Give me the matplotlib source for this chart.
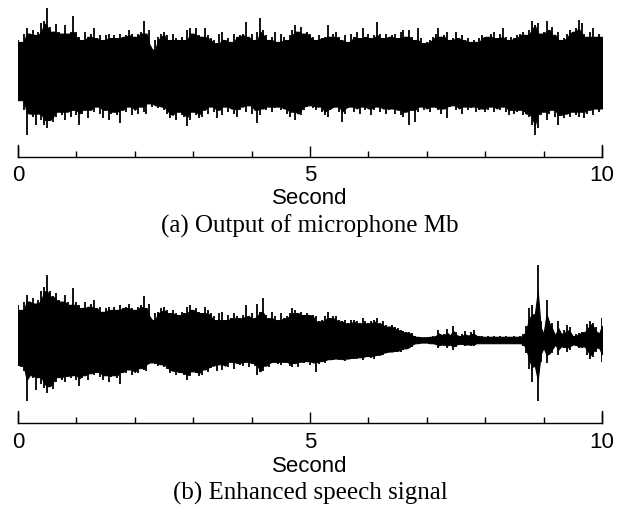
import numpy as np
import matplotlib
matplotlib.use("Agg")
import matplotlib.pyplot as plt

# ---------------- data (amplitude envelopes sampled every 0.05 s) ----------------
time_s = np.linspace(0, 10, 201)

mic_upper = [
 0.50,0.47,0.60,0.68,0.60,0.66,0.58,0.63,0.76,0.80,1.00,0.71,0.63,0.75,0.63,0.60,0.73,0.60,0.63,0.87,
 0.63,0.55,0.50,0.63,0.55,0.60,0.68,0.53,0.58,0.50,0.58,0.60,0.53,0.58,0.53,0.60,0.55,0.58,0.66,0.60,
 0.55,0.60,0.63,0.80,0.60,0.66,0.35,0.50,0.55,0.60,0.63,0.58,0.50,0.60,0.53,0.50,0.55,0.50,0.66,0.68,
 0.60,0.68,0.58,0.55,0.68,0.58,0.53,0.50,0.45,0.60,0.63,0.50,0.53,0.47,0.60,0.55,0.58,0.60,0.78,0.55,
 0.60,0.50,0.63,0.84,0.66,0.58,0.50,0.55,0.63,0.47,0.60,0.55,0.50,0.58,0.66,0.73,0.63,0.71,0.60,0.63,
 0.60,0.55,0.50,0.58,0.53,0.55,0.73,0.55,0.60,0.63,0.55,0.50,0.58,0.47,0.60,0.55,0.63,0.53,0.68,0.55,
 0.60,0.53,0.58,0.78,0.60,0.53,0.60,0.55,0.58,0.60,0.53,0.63,0.66,0.55,0.66,0.55,0.50,0.68,0.53,0.45,
 0.47,0.50,0.55,0.60,0.68,0.55,0.58,0.63,0.50,0.53,0.63,0.53,0.58,0.50,0.53,0.47,0.50,0.47,0.53,0.58,
 0.55,0.55,0.60,0.63,0.53,0.60,0.68,0.55,0.50,0.55,0.53,0.58,0.60,0.63,0.58,0.66,0.80,0.73,0.76,0.60,
 0.63,0.80,0.66,0.71,0.58,0.63,0.50,0.53,0.60,0.66,0.63,0.68,0.81,0.76,0.60,0.55,0.63,0.68,0.55,0.60,
 0.55]
mic_lower = [
 -0.44,-0.44,-0.59,-0.98,-0.65,-0.70,-0.83,-0.65,-0.75,-0.83,-0.88,-0.75,-0.78,-0.70,-0.62,-0.67,-0.75,-0.62,-0.70,-0.59,
 -0.67,-0.83,-0.65,-0.59,-0.72,-0.59,-0.62,-0.54,-0.65,-0.72,-0.59,-0.75,-0.65,-0.62,-0.67,-0.80,-0.59,-0.62,-0.54,-0.67,
 -0.59,-0.65,-0.54,-0.62,-0.65,-0.49,-0.54,-0.52,-0.57,-0.54,-0.59,-0.65,-0.72,-0.67,-0.75,-0.62,-0.67,-0.70,-0.85,-0.75,
 -0.62,-0.67,-0.72,-0.70,-0.59,-0.65,-0.54,-0.62,-0.72,-0.59,-0.67,-0.54,-0.62,-0.57,-0.65,-0.70,-0.59,-0.54,-0.62,-0.52,
 -0.65,-0.59,-0.80,-0.67,-0.57,-0.59,-0.54,-0.62,-0.57,-0.54,-0.59,-0.57,-0.65,-0.70,-0.62,-0.75,-0.65,-0.67,-0.59,-0.54,
 -0.52,-0.57,-0.59,-0.54,-0.62,-0.67,-0.70,-0.59,-0.57,-0.54,-0.62,-0.78,-0.65,-0.57,-0.54,-0.62,-0.57,-0.65,-0.54,-0.59,
 -0.57,-0.67,-0.59,-0.54,-0.62,-0.57,-0.65,-0.59,-0.57,-0.65,-0.59,-0.67,-0.70,-0.62,-0.83,-0.59,-0.78,-0.62,-0.54,-0.59,
 -0.57,-0.62,-0.54,-0.57,-0.59,-0.65,-0.57,-0.72,-0.54,-0.52,-0.59,-0.57,-0.65,-0.54,-0.59,-0.57,-0.54,-0.62,-0.59,-0.57,
 -0.62,-0.59,-0.54,-0.62,-0.57,-0.59,-0.54,-0.62,-0.67,-0.59,-0.65,-0.62,-0.59,-0.67,-0.65,-0.70,-0.83,-0.98,-0.88,-0.67,
 -0.62,-0.75,-0.65,-0.59,-0.70,-0.83,-0.67,-0.72,-0.65,-0.70,-0.62,-0.67,-0.70,-0.62,-0.72,-0.65,-0.59,-0.67,-0.57,-0.62,
 -0.57]

enh_upper = [
 0.55,0.47,0.60,0.70,0.60,0.65,0.57,0.63,0.76,0.83,1.02,0.76,0.68,0.73,0.63,0.60,0.70,0.60,0.55,0.81,
 0.60,0.55,0.50,0.60,0.52,0.57,0.63,0.50,0.52,0.44,0.50,0.52,0.47,0.52,0.47,0.55,0.50,0.52,0.57,0.50,
 0.47,0.52,0.55,0.68,0.50,0.57,0.31,0.42,0.44,0.50,0.52,0.47,0.42,0.47,0.42,0.39,0.44,0.42,0.52,0.55,
 0.47,0.50,0.44,0.42,0.52,0.47,0.42,0.37,0.31,0.42,0.44,0.31,0.39,0.34,0.42,0.37,0.34,0.39,0.55,0.37,
 0.42,0.34,0.57,0.44,0.65,0.39,0.34,0.44,0.37,0.31,0.42,0.34,0.37,0.42,0.50,0.47,0.42,0.44,0.39,0.42,
 0.39,0.39,0.37,0.29,0.31,0.37,0.44,0.34,0.37,0.37,0.31,0.29,0.31,0.26,0.31,0.31,0.29,0.26,0.34,0.29,
 0.26,0.29,0.31,0.34,0.26,0.29,0.23,0.21,0.23,0.21,0.18,0.16,0.14,0.12,0.13,0.11,0.07,0.05,0.05,0.04,
 0.05,0.05,0.06,0.07,0.16,0.08,0.10,0.17,0.07,0.22,0.13,0.06,0.09,0.14,0.07,0.12,0.16,0.08,0.06,0.06,
 0.05,0.06,0.05,0.06,0.05,0.06,0.05,0.06,0.05,0.05,0.06,0.05,0.06,0.10,0.22,0.50,0.55,0.40,1.17,0.30,
 0.10,0.62,0.30,0.26,0.07,0.29,0.10,0.15,0.24,0.20,0.06,0.09,0.11,0.13,0.12,0.25,0.30,0.26,0.21,0.10,
 0.34]
enh_lower = [
 -0.39,-0.42,-0.48,-0.96,-0.55,-0.60,-0.78,-0.58,-0.68,-0.75,-0.83,-0.72,-0.76,-0.66,-0.58,-0.62,-0.65,-0.56,-0.60,-0.55,
 -0.62,-0.72,-0.60,-0.55,-0.62,-0.52,-0.55,-0.50,-0.58,-0.62,-0.55,-0.65,-0.58,-0.55,-0.60,-0.68,-0.50,-0.52,-0.46,-0.55,
 -0.50,-0.52,-0.44,-0.47,-0.48,-0.38,-0.35,-0.37,-0.40,-0.38,-0.42,-0.46,-0.52,-0.48,-0.55,-0.50,-0.52,-0.55,-0.62,-0.56,
 -0.49,-0.52,-0.56,-0.54,-0.46,-0.50,-0.44,-0.40,-0.49,-0.38,-0.47,-0.40,-0.42,-0.34,-0.46,-0.36,-0.39,-0.40,-0.34,-0.42,
 -0.36,-0.40,-0.55,-0.50,-0.49,-0.40,-0.42,-0.36,-0.34,-0.37,-0.39,-0.34,-0.36,-0.40,-0.42,-0.36,-0.42,-0.34,-0.36,-0.33,
 -0.39,-0.35,-0.50,-0.38,-0.33,-0.36,-0.32,-0.30,-0.31,-0.29,-0.31,-0.30,-0.33,-0.29,-0.30,-0.28,-0.29,-0.27,-0.32,-0.27,
 -0.25,-0.28,-0.29,-0.24,-0.23,-0.23,-0.20,-0.19,-0.18,-0.18,-0.17,-0.18,-0.15,-0.13,-0.13,-0.11,-0.07,-0.05,-0.05,-0.04,
 -0.05,-0.05,-0.06,-0.07,-0.13,-0.07,-0.09,-0.13,-0.07,-0.16,-0.11,-0.06,-0.08,-0.10,-0.07,-0.09,-0.10,-0.07,-0.05,-0.06,
 -0.05,-0.06,-0.05,-0.06,-0.05,-0.06,-0.05,-0.06,-0.05,-0.05,-0.06,-0.05,-0.06,-0.09,-0.20,-0.45,-0.65,-0.40,-0.96,-0.34,
 -0.12,-0.36,-0.22,-0.21,-0.07,-0.23,-0.10,-0.12,-0.18,-0.15,-0.07,-0.10,-0.13,-0.12,-0.10,-0.24,-0.29,-0.26,-0.18,-0.12,
 -0.34]

tick_values = [0, 5, 10]
tick_labels = ["0", "5", "10"]
minor_ticks = [1, 2, 3, 4, 6, 7, 8, 9]
x_label = "Second"
captions = ["(a) Output of microphone Mb", "(b) Enhanced speech signal"]

# ---------------- figure ----------------
W, H = 629, 515
fig = plt.figure(figsize=(W / 100, H / 100), dpi=100)
sans = ["Liberation Sans", "DejaVu Sans"]
serif = ["Liberation Serif", "DejaVu Serif"]


def px_axes(left, top, right, bottom):
    return fig.add_axes([left / W, 1 - bottom / H, (right - left) / W, (bottom - top) / H])


def body_of(env):
    """Core of the trace: neighbourhood minimum, but never below 65% of the local peak."""
    e = np.abs(np.asarray(env))
    pad = np.concatenate([e[:1], e, e[-1:]])
    nmin = np.minimum(np.minimum(pad[:-2], pad[1:-1]), pad[2:])
    return np.maximum(nmin, 0.65 * e)


panels = [
    dict(upper=mic_upper, lower=mic_lower, top=0, bottom=156.7, center=72.0,
         label_y=176, xlabel_y=199, cap_y=226, caption=captions[0]),
    dict(upper=enh_upper, lower=enh_lower, top=258, bottom=422.7, center=340.0,
         label_y=443, xlabel_y=466, cap_y=493, caption=captions[1]),
]
scale = 64.0  # px per unit amplitude
x0, x1 = 18, 602

for p in panels:
    ax = px_axes(x0, p["top"], x1, p["bottom"])
    ymax = (p["center"] - p["top"]) / scale
    ymin = -(p["bottom"] - p["center"]) / scale
    up = np.array(p["upper"])
    lo = np.array(p["lower"])
    ax.fill_between(time_s, -body_of(lo), body_of(up), color="black", lw=0.8, edgecolor="black")
    ax.vlines(time_s, lo, up, color="black", lw=1.3)
    ax.set_xlim(0, 10)
    ax.set_ylim(ymin, ymax)
    for s in ["top", "right", "left"]:
        ax.spines[s].set_visible(False)
    ax.spines["bottom"].set_linewidth(1.0)
    ax.set_yticks([])
    ax.set_xticks(tick_values)
    ax.set_xticklabels([])
    ax.set_xticks(minor_ticks, minor=True)
    ax.tick_params(axis="x", which="major", direction="in", length=8, width=1.0)
    ax.tick_params(axis="x", which="minor", direction="in", length=4, width=1.0)
    ax.patch.set_alpha(0)
    for xv in (tick_values[0], tick_values[-1]):
        ax.axvline(xv, ymin=0, ymax=12 / (p["bottom"] - p["top"]), color="black", lw=1.0,
                   clip_on=False)
    for xv, lab in zip(tick_values, tick_labels):
        fig.text((x0 + (x1 - x0) * xv / 10) / W, 1 - p["label_y"] / H, lab,
                 ha="center", va="center", fontsize=16, family=sans)
    fig.text((x0 + x1) / 2 / W, 1 - p["xlabel_y"] / H, x_label, ha="center", va="center",
             fontsize=16, family=sans)
    fig.text((x0 + x1) / 2 / W, 1 - p["cap_y"] / H, p["caption"], ha="center", va="center",
             fontsize=18, family=serif)

fig.savefig("out.png", dpi=100)
